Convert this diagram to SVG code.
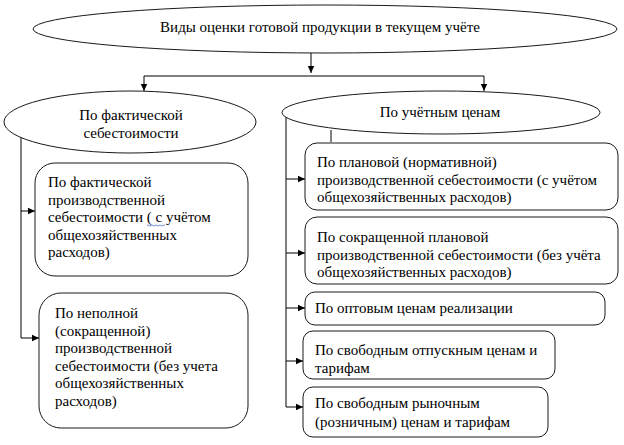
<svg xmlns="http://www.w3.org/2000/svg" width="624" height="445" viewBox="0 0 624 445">
<style>
  .shape { fill: #ffffff; stroke: #1a1a1a; stroke-width: 1; }
  .t { font-family: "Liberation Serif", Tinos, "Times New Roman", Times, "Noto Serif", "DejaVu Serif", serif; font-size: 15px; fill: #000000; }
  .c { text-anchor: middle; }
  .conn { fill: none; stroke: #000000; stroke-width: 1; }
</style>
<defs>
  <marker id="arr" markerUnits="userSpaceOnUse" markerWidth="8" markerHeight="8" refX="7" refY="4" orient="auto">
    <path d="M0,0.8 L7,4 L0,7.2 Z" fill="#000000"/>
  </marker>
</defs>
<rect width="624" height="445" fill="#ffffff"/>

<g id="connectors">
  <path class="conn" d="M311,53 V73" marker-end="url(#arr)"/>
  <path class="conn" d="M311,76 H144 V91" marker-end="url(#arr)"/>
  <path class="conn" d="M311,76 H484 V91" marker-end="url(#arr)"/>
  <path class="conn" d="M21,135 V338 H39" marker-end="url(#arr)"/>
  <path class="conn" d="M21,211 H35" marker-end="url(#arr)"/>
  <path class="conn" d="M286,117 V407 H303" marker-end="url(#arr)"/>
  <path class="conn" d="M286,179 H305" marker-end="url(#arr)"/>
  <path class="conn" d="M286,253 H305" marker-end="url(#arr)"/>
  <path class="conn" d="M286,308 H305" marker-end="url(#arr)"/>
  <path class="conn" d="M286,361 H303" marker-end="url(#arr)"/>
  <path class="conn" d="M331,130 V142"/>
</g>

<g id="root">
  <ellipse class="shape" cx="325" cy="29" rx="292" ry="24"/>
  <text class="t c" x="320" y="32">Виды оценки готовой продукции в текущем учёте</text>
</g>

<g id="actual-cost">
  <ellipse class="shape" cx="130" cy="122" rx="126" ry="31"/>
  <text class="t c" x="131" y="120">По фактической</text>
  <text class="t c" x="131" y="138">себестоимости</text>
</g>

<g id="accounting-prices">
  <ellipse class="shape" cx="441" cy="112.5" rx="159" ry="21.5"/>
  <text class="t c" x="440" y="117">По учётным ценам</text>
</g>

<g id="box-actual-production">
  <rect class="shape" x="35" y="163" width="213" height="113" rx="20"/>
  <text class="t" x="48" y="187">По фактической</text>
  <text class="t" x="48" y="204.5">производственной</text>
  <text class="t" x="48" y="222">себестоимости ( с учётом</text>
  <text class="t" x="48" y="239.5">общехозяйственных</text>
  <text class="t" x="48" y="257">расходов)</text>
  <path d="M147,225.5 q1,-1.2 2,0 t2,0 t2,0 t2,0 t2,0 t2,0 t2,0 t2,0 t2,0" fill="none" stroke="#4a6fd0" stroke-width="0.8"/>
</g>

<g id="box-incomplete">
  <rect class="shape" x="39" y="293" width="209" height="135" rx="22"/>
  <text class="t" x="55" y="318">По неполной</text>
  <text class="t" x="55" y="335.5">(сокращенной)</text>
  <text class="t" x="55" y="353">производственной</text>
  <text class="t" x="55" y="370.5">себестоимости (без учета</text>
  <text class="t" x="55" y="388">общехозяйственных</text>
  <text class="t" x="55" y="405.5">расходов)</text>
</g>

<g id="box-planned">
  <rect class="shape" x="305" y="143" width="313" height="67" rx="12"/>
  <text class="t" x="317" y="167">По плановой (нормативной)</text>
  <text class="t" x="317" y="184.5">производственной себестоимости (с учётом</text>
  <text class="t" x="317" y="202">общехозяйственных расходов)</text>
</g>

<g id="box-reduced-planned">
  <rect class="shape" x="305" y="217" width="313" height="67" rx="12"/>
  <text class="t" x="317" y="242">По сокращенной плановой</text>
  <text class="t" x="317" y="259.5">производственной себестоимости (без учёта</text>
  <text class="t" x="317" y="277">общехозяйственных расходов)</text>
</g>

<g id="box-wholesale">
  <rect class="shape" x="305" y="292" width="300" height="33" rx="10"/>
  <text class="t" x="315" y="313">По оптовым ценам реализации</text>
</g>

<g id="box-free-release">
  <rect class="shape" x="303" y="331" width="252" height="48" rx="10"/>
  <text class="t" x="315" y="355">По свободным отпускным ценам и</text>
  <text class="t" x="315" y="372.5">тарифам</text>
</g>

<g id="box-free-market">
  <rect class="shape" x="303" y="387" width="245" height="50" rx="10"/>
  <text class="t" x="315" y="408">По свободным рыночным</text>
  <text class="t" x="315" y="426.5">(розничным) ценам и тарифам</text>
</g>
</svg>
